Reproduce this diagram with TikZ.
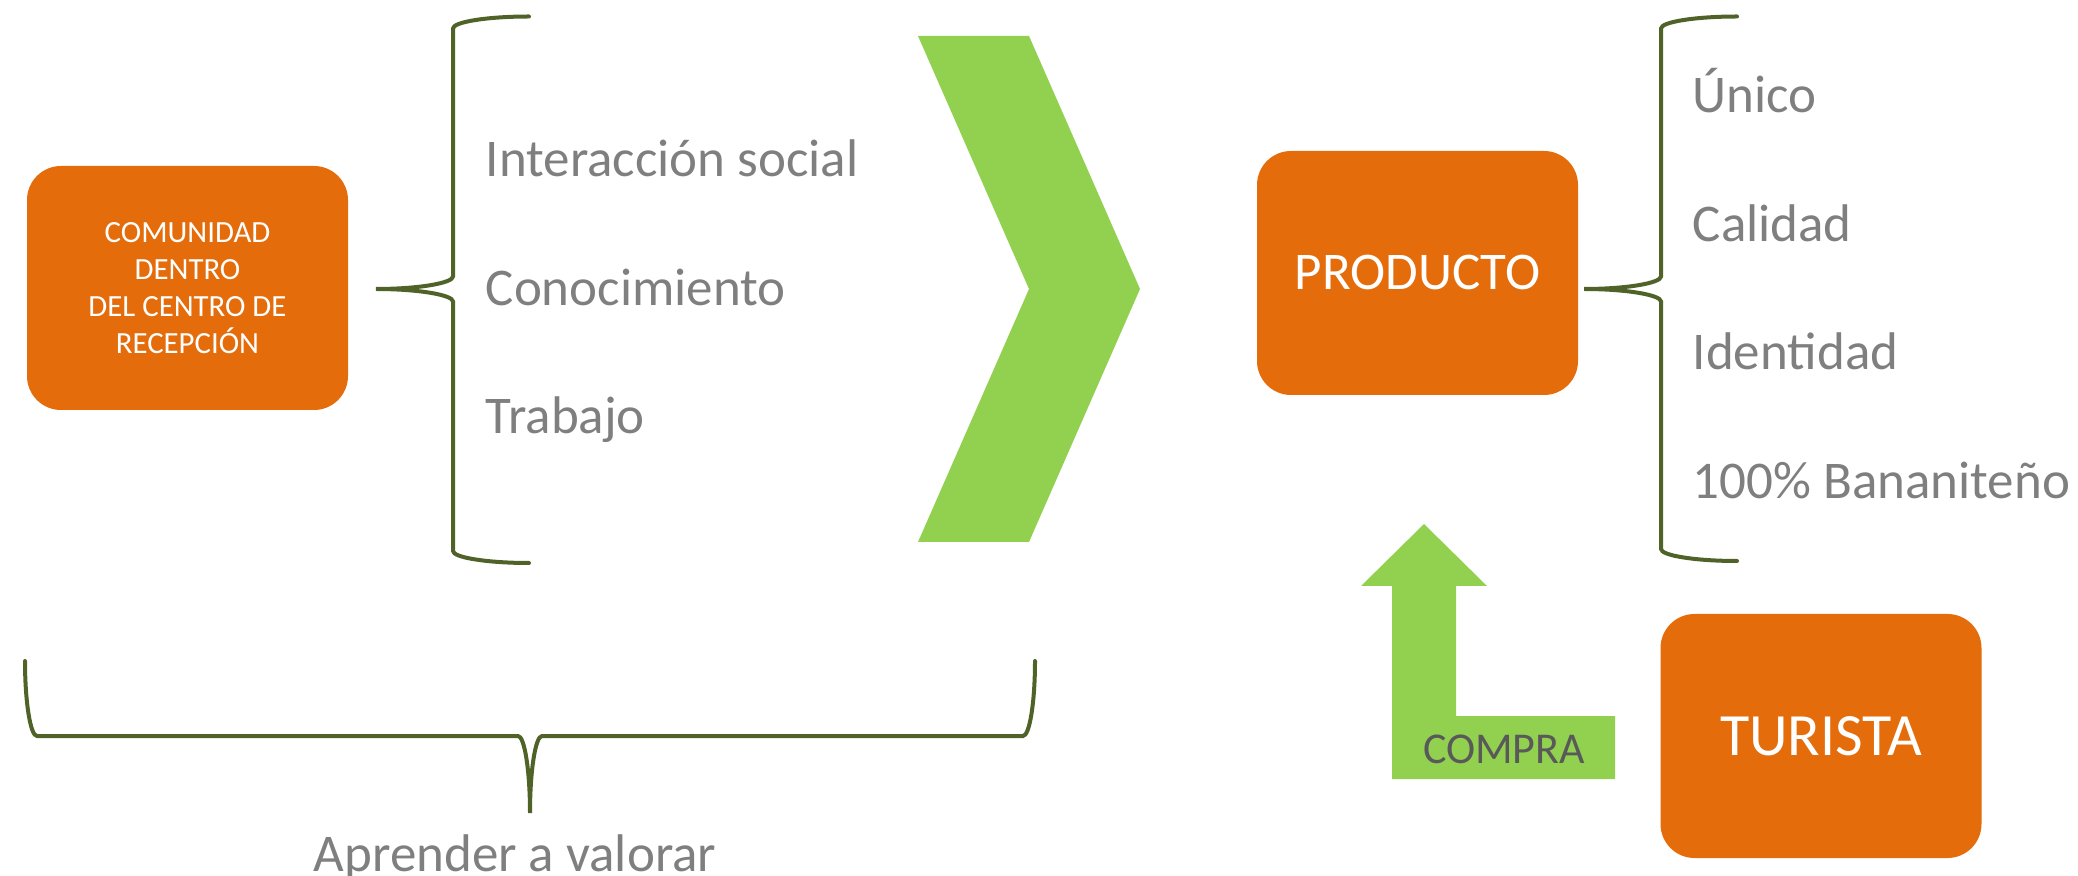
\documentclass[tikz,border=0pt]{standalone}
\usepackage{fontspec}
\setmainfont{Carlito}

\definecolor{boxorange}{HTML}{E46C0A}
\definecolor{arrowgreen}{HTML}{92D050}
\definecolor{braceolive}{HTML}{4F6228}
\definecolor{itemgray}{HTML}{7F7F7F}
\definecolor{labelgray}{HTML}{595959}

\tikzset{every picture/.style={line width=0.75pt}}
\tikzset{
  orangebox/.style={fill=boxorange, rounded corners=17pt, minimum width=160.5pt, minimum height=122pt, text=white, align=center, inner sep=0pt},
  bracepath/.style={draw=braceolive, line width=2pt, line cap=round},
  itemtext/.style={anchor=base west, inner sep=0pt, text=itemgray, font=\fontsize{26.5}{32}\selectfont}
}

\begin{document}
\begin{tikzpicture}[x=0.5pt,y=0.5pt,yscale=-1,xscale=1]
	\useasboundingbox (0,0) rectangle (2078,876);
	
	%Rounded Rect
	\node (comunidad) [orangebox, font=\fontsize{15.4}{18.5}\selectfont] at (187.5,288) {COMUNIDAD\\DENTRO\\DEL CENTRO DE\\RECEPCIÓN};
	%Rounded Rect
	\node (producto) [orangebox, font=\fontsize{26.5}{32}\selectfont] at (1417.5,273) {PRODUCTO};
	%Rounded Rect
	\node (turista) [orangebox, font=\fontsize{30}{36}\selectfont] at (1821,736) {TURISTA};
	
	%Shape: Left Brace
	\draw [bracepath] (529,16.5) .. controls (487,16.5) and (453,22) .. (453,28.5) -- (453,276.5) .. controls (453,283) and (418.5,289) .. (376,289) .. controls (418.5,289) and (453,295) .. (453,301.5) -- (453,551) .. controls (453,557.5) and (487,563) .. (529,563) ;
	%Shape: Left Brace
	\draw [bracepath] (1737,16.5) .. controls (1695,16.5) and (1661,22) .. (1661,28.5) -- (1661,276.5) .. controls (1661,283) and (1626.5,289) .. (1584,289) .. controls (1626.5,289) and (1661,295) .. (1661,301.5) -- (1661,549) .. controls (1661,555.5) and (1695,561) .. (1737,561) ;
	%Shape: Bottom Brace
	\draw [bracepath] (25,661) .. controls (25,702.5) and (30.5,736) .. (37,736) -- (518,736) .. controls (524.5,736) and (530,770.5) .. (530,813) .. controls (530,770.5) and (535.5,736) .. (542,736) -- (1023,736) .. controls (1029.5,736) and (1035,702.5) .. (1035,661) ;
	
	%Shape: Chevron
	\fill [arrowgreen] (918,36) -- (1029,36) -- (1140,289) -- (1029,542) -- (918,542) -- (1029,289) -- cycle ;
	%Shape: Bent Up Arrow
	\fill [arrowgreen] (1424,524) -- (1487,586) -- (1456,586) -- (1456,716) -- (1615,716) -- (1615,779) -- (1392,779) -- (1392,586) -- (1361,586) -- cycle ;
	
	% Text Node
	\node (interaccion) [itemtext] at (485,177) {Interacción social};
	% Text Node
	\node (conocimiento) [itemtext] at (485,306) {Conocimiento};
	% Text Node
	\node (trabajo) [itemtext] at (485,434) {Trabajo};
	% Text Node
	\node (unico) [itemtext] at (1692,113) {Único};
	% Text Node
	\node (calidad) [itemtext] at (1692,242) {Calidad};
	% Text Node
	\node (identidad) [itemtext] at (1692,370) {Identidad};
	% Text Node
	\node (bananiteno) [itemtext] at (1692,499) {100\% Bananiteño};
	% Text Node
	\node (aprender) [itemtext, anchor=base] at (515,871) {Aprender a valorar};
	% Text Node
	\node (compra) [anchor=base, inner sep=0pt, text=labelgray, font=\fontsize{22}{26}\selectfont] at (1504,763) {COMPRA};
	
\end{tikzpicture}
\end{document}
